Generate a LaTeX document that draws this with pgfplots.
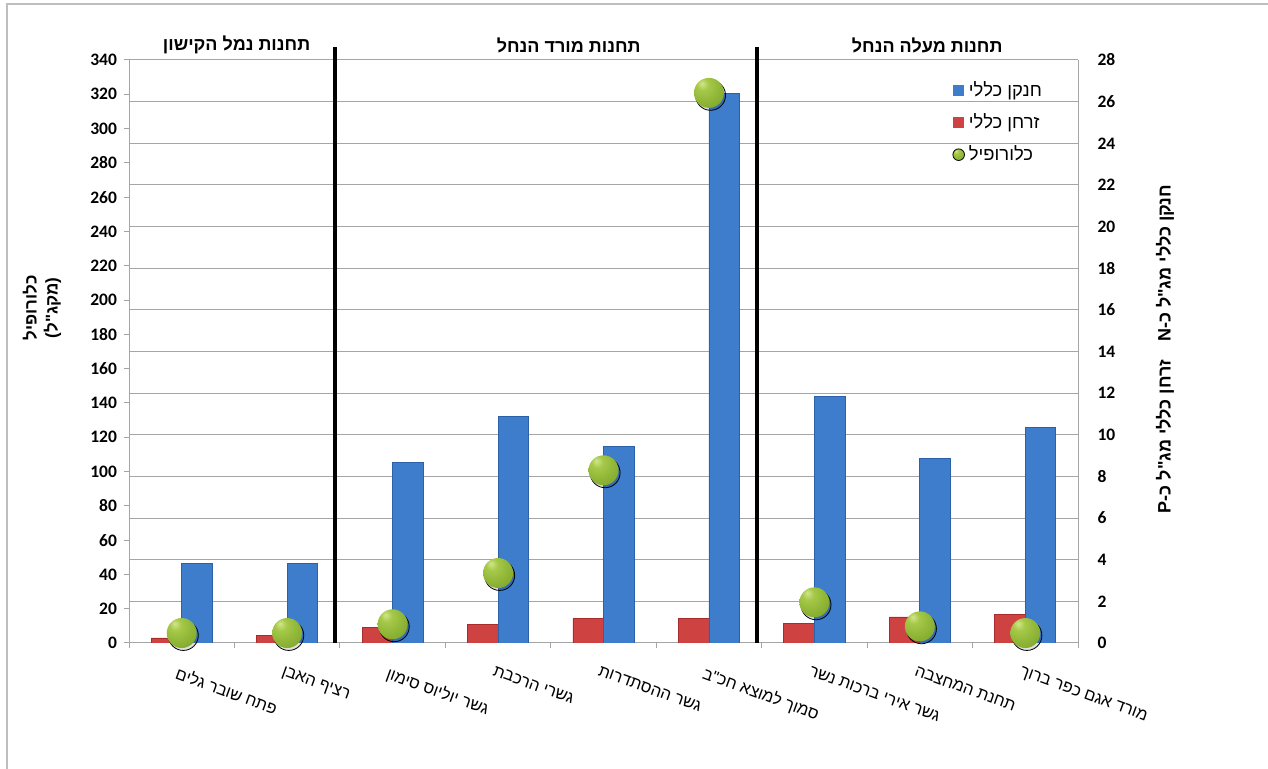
\documentclass[border=0pt]{standalone}
\usepackage{fontspec}
\setmainfont{Carlito}
\newfontfamily\heb[Script=Hebrew]{Liberation Sans}
\usepackage{pgfplots}
\usepackage{pgfplotstable}
\pgfplotsset{compat=1.18}
\TeXXeTstate=1

\definecolor{nfill}{RGB}{62,124,204}
\definecolor{nedge}{RGB}{44,96,168}
\definecolor{pfill}{RGB}{206,66,66}
\definecolor{pedge}{RGB}{168,44,44}
\definecolor{gb1}{RGB}{210,230,140}
\definecolor{gb2}{RGB}{165,200,72}
\definecolor{gb3}{RGB}{128,168,42}
\definecolor{gb4}{RGB}{98,134,30}
\definecolor{gridgray}{RGB}{165,165,165}
\definecolor{framegray}{RGB}{190,190,190}

% shaded green ball used for the chlorophyll marks
\pgfdeclareradialshading{greenball}{\pgfpoint{-12bp}{16bp}}{%
  color(0bp)=(gb1); color(10bp)=(gb2); color(38bp)=(gb3); color(62bp)=(gb4); color(80bp)=(gb4)}
\pgfdeclareplotmark{greenball}{%
  \pgfpathcircle{\pgfpointorigin}{\pgfplotmarksize}%
  \pgfshadepath{greenball}{0}%
  \pgfusepath{discard}}

% station, total N (mg/L), total P (mg/L), chlorophyll (ug/L)
\pgfplotstableread{
idx  N      P     chl
0    3.81   0.24  5.8
1    3.81   0.38  5.8
2    8.69   0.75  10.9
3    10.88  0.88  40.8
4    9.44   1.18  100.7
5    26.38  1.18  320.8
6    11.82  0.93  23.7
7    8.87   1.25  9.7
8    10.36  1.37  5.8
}\stations

\begin{document}
\begin{tikzpicture}
\useasboundingbox (0,0) rectangle (634pt,384.5pt);
\draw[framegray, line width=0.8pt] (3.5pt,0pt) -- (3.5pt,382.5pt) -- (634pt,382.5pt);

% nutrients: bars on the right-hand axis
\begin{axis}[
  at={(64.5pt,63pt)}, anchor=south west,
  width=474.5pt, height=291.5pt, scale only axis,
  xmin=-0.5, xmax=8.5, ymin=0, ymax=28,
  axis y line*=right, axis x line*=bottom,
  axis line style={gridgray, line width=0.5pt},
  ytick={0,2,...,28},
  ymajorgrids, grid style={gridgray, line width=0.5pt},
  major y tick style={draw=none},
  /pgf/number format/assume math mode=true,
  yticklabel style={font=\bfseries\fontsize{8.75}{10}\selectfont, anchor=west, xshift=2pt},
  xtick={0,...,8},
  xticklabels={
    {\beginR פתח שובר גלים\endR},
    {\beginR רציף האבן\endR},
    {\beginR גשר יוליוס סימון\endR},
    {\beginR גשרי הרכבת\endR},
    {\beginR גשר ההסתדרות\endR},
    {\beginR סמוך למוצא חכ"ב\endR},
    {\beginR גשר אירי ברכות נשר\endR},
    {\beginR תחנת המחצבה\endR},
    {\beginR מורד אגם כפר ברוך\endR}},
  xticklabel style={font=\heb\fontsize{8.2}{9.5}\selectfont, rotate=-20, anchor=north west, yshift=-6pt, inner sep=1pt},
  major x tick style={draw=none},
  minor xtick={-0.5,0.5,...,8.5},
  minor x tick style={gridgray, line width=0.5pt},
  minor tick length=2.5pt,
  tick align=outside,
]
\addplot[ybar, bar width=0.29, bar shift=-0.145, fill=pfill, draw=pedge, line width=0.4pt]
  table[x=idx, y=P] {\stations};
\addplot[ybar, bar width=0.29, bar shift=0.145, fill=nfill, draw=nedge, line width=0.4pt]
  table[x=idx, y=N] {\stations};
\end{axis}

% chlorophyll: balls on the left-hand axis, with the legend and station groups
\begin{axis}[
  at={(64.5pt,63pt)}, anchor=south west,
  width=474.5pt, height=291.5pt, scale only axis,
  xmin=-0.5, xmax=8.5, ymin=0, ymax=340,
  axis y line*=left, axis x line=none,
  axis line style={gridgray, line width=0.5pt},
  ytick={0,20,...,340},
  tick align=outside, major tick length=2.5pt,
  ytick style={gridgray, line width=0.5pt},
  /pgf/number format/assume math mode=true,
  yticklabel style={font=\bfseries\fontsize{8.75}{10}\selectfont},
  clip=false,
  legend style={font=\heb\fontsize{9.2}{10}\selectfont, draw=none, fill=none,
    at={(0.861,0.977)}, anchor=north west, row sep=3pt},
  legend cell align=left,
]
\addlegendimage{legend image code/.code={\fill[nfill] (0pt,-2.5pt) rectangle (5pt,2.5pt);}}
\addlegendentry{\beginR חנקן כללי\endR}
\addlegendimage{legend image code/.code={\fill[pfill] (0pt,-2.5pt) rectangle (5pt,2.5pt);}}
\addlegendentry{\beginR זרחן כללי\endR}
\addplot[forget plot, only marks, mark=*, mark size=7.5pt,
  mark options={draw=none, fill=black, fill opacity=0.12, xshift=0.8pt, yshift=-1.2pt}]
  table[x=idx, y=chl] {\stations};
\addplot[only marks, mark=greenball, mark size=7.5pt,
  legend image code/.code={\shade[shading=greenball] (2.6pt,0pt) circle (2.9pt);}]
  table[x=idx, y=chl] {\stations};
\addlegendentry{כלורופיל}

\draw[black, line width=2pt] (axis cs:1.45,0) -- ([yshift=6.5pt]axis cs:1.45,340);
\draw[black, line width=2pt] (axis cs:5.46,0) -- ([yshift=6.5pt]axis cs:5.46,340);
\begin{scope}[every node/.style={font=\heb\bfseries\fontsize{9}{10}\selectfont}]
\node at ([yshift=7.5pt]axis cs:0.52,340) {\beginR תחנות נמל הקישון\endR};
\node at ([yshift=7.5pt]axis cs:3.67,340) {\beginR תחנות מורד הנחל\endR};
\node at ([yshift=7.5pt]axis cs:7.07,340) {\beginR תחנות מעלה הנחל\endR};
\end{scope}
\end{axis}

\node[rotate=90, align=center, font=\heb\bfseries\fontsize{8.5}{10.5}\selectfont]
  at (21pt,230.5pt) {כלורופיל\\\beginR(מקג"ל)\endR};
\node[rotate=90, font=\heb\bfseries\fontsize{9}{10}\selectfont]
  at (582.5pt,210pt) {\beginR חנקן כללי מג"ל כ-N\quad זרחן כללי מג"ל כ-P\endR};
\end{tikzpicture}
\end{document}
